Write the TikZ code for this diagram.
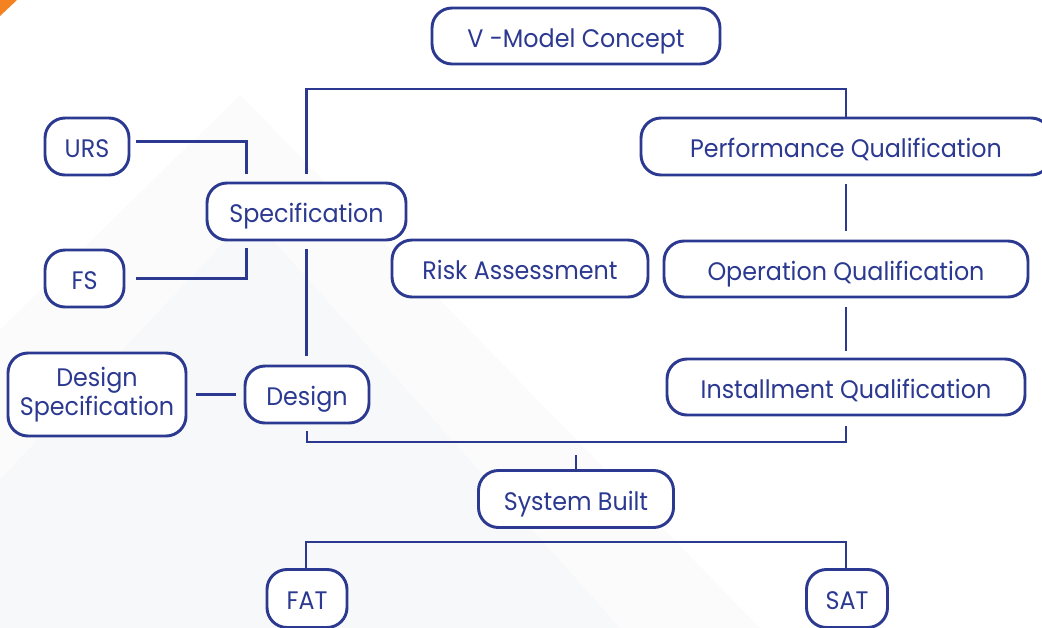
\documentclass[tikz,border=0pt]{standalone}
\usepackage{fontspec}
\setmainfont[FakeStretch=0.94]{Poppins}
\definecolor{vblue}{RGB}{43,57,144}
\definecolor{bgA}{RGB}{247,248,250}
\definecolor{bgB}{RGB}{251,251,252}
\definecolor{vorange}{RGB}{245,130,32}
\begin{document}
\begin{tikzpicture}[x=0.75pt,y=-0.75pt,
  boxbase/.style={draw=vblue, line width=2.2pt, rounded corners=15pt, fill=white, text=vblue,
    inner sep=0pt, align=center, font=\fontsize{19pt}{21.75pt}\selectfont},
  box/.style={boxbase, text height=19pt, text depth=2pt},
  link/.style={draw=vblue, line width=2.2pt}]
\useasboundingbox (0,0) rectangle (1042,628);
% background
\fill[white] (0,0) rectangle (1042,628);
\fill[bgB] (0,628) -- (0,330) -- (240,95) -- (760,628) -- cycle;
\fill[bgA] (0,628) -- (0,480) -- (250,215) -- (620,628) -- cycle;
\fill[vorange] (0,0) -- (17,0) -- (0,16) -- cycle;
% nodes
\node[box, minimum width=216pt, minimum height=42pt] (vmc) at (576,36) {V -Model Concept};
\node[box, minimum width=63pt, minimum height=42.75pt] (urs) at (87,146.5) {URS};
\node[box, minimum width=149.25pt, minimum height=42.75pt] (spec) at (306.5,211.5) {Specification};
\node[box, minimum width=59.25pt, minimum height=42.75pt] (fs) at (84.5,278.5) {FS};
\node[box, minimum width=192pt, minimum height=42.75pt] (risk) at (520,268.5) {Risk Assessment};
\node[box, minimum width=307.5pt, minimum height=42.75pt] (pq) at (846,146.5) {Performance Qualification};
\node[box, minimum width=273pt, minimum height=42pt] (oq) at (846,269) {Operation Qualification};
\node[box, minimum width=268.5pt, minimum height=42pt] (iq) at (846,387) {Installment Qualification};
\node[boxbase, minimum width=133.5pt, minimum height=62.25pt] (ds) at (97,394.5) {Design\\Specification};
\node[box, minimum width=93pt, minimum height=42.75pt] (design) at (307,394.5) {Design};
\node[box, minimum width=146.25pt, minimum height=42.75pt] (sb) at (576,499) {System Built};
\node[box, minimum width=60pt, minimum height=43.5pt] (fat) at (307,598.5) {FAT};
\node[box, minimum width=60.75pt, minimum height=43.5pt] (sat) at (847,598.5) {SAT};
% levels
\coordinate (ytop) at (0,89);
\coordinate (ybot) at (0,442);
\coordinate (yft) at (0,542);
% connectors
\draw[link, shorten <=6pt] (spec.north) -- (spec.north |- ytop) -| (oq.north |- pq.north);
\draw[link, shorten <=4.5pt, shorten >=6pt] ([yshift=3.75pt]urs.east) -| ([xshift=-45pt]spec.north);
\draw[link, shorten <=8pt, shorten >=5pt] (fs.east) -| ([xshift=-45pt]spec.south);
\draw[link, shorten <=6pt, shorten >=6.75pt] (spec.south) -- (spec.south |- design.north);
\draw[link, shorten <=6.75pt, shorten >=6pt] (ds.east) -- (design.west);
\draw[link, shorten <=5pt, shorten >=7pt] (design.south) -- (design.south |- ybot) -| (iq.south);
\draw[link, shorten >=9.75pt] (sb.north) -- (sb.north |- ybot);
\draw[link, shorten <=6pt, shorten >=6.75pt] (oq.north |- pq.south) -- (oq.north);
\draw[link, shorten <=6.75pt, shorten >=5.25pt] (oq.south) -- (iq.north);
\draw[link] ([xshift=-0.75pt]fat.north) -- ([xshift=-0.75pt]fat.north |- yft) -| ([xshift=-0.75pt]sat.north);
\end{tikzpicture}
\end{document}
